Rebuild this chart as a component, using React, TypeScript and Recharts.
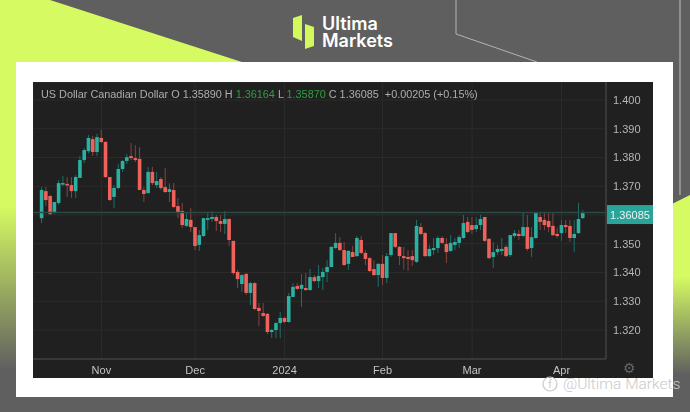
import * as React from "react"
import { ComposedChart, Bar, XAxis, YAxis, CartesianGrid, ReferenceLine } from "recharts"

const opens = [
  1.3589, 1.3683, 1.3666, 1.3607, 1.3642, 1.3708, 1.3708, 1.3704, 1.3683, 1.3729,
  1.3791, 1.3822, 1.3864, 1.3819, 1.3868, 1.3854, 1.3732, 1.3663, 1.3694, 1.3760,
  1.3788, 1.3805, 1.3798, 1.3795, 1.3687, 1.3676, 1.3750, 1.3704, 1.3725, 1.3697,
  1.3680, 1.3687, 1.3631, 1.3614, 1.3562, 1.3583, 1.3558, 1.3496, 1.3527, 1.3583,
  1.3586, 1.3593, 1.3579, 1.3569, 1.3586, 1.3510, 1.3402, 1.3360, 1.3395, 1.3329,
  1.3363, 1.3277, 1.3259, 1.3256, 1.3193, 1.3200, 1.3224, 1.3242, 1.3228, 1.3315,
  1.3353, 1.3343, 1.3346, 1.3339, 1.3384, 1.3370, 1.3384, 1.3402, 1.3419, 1.3485,
  1.3503, 1.3478, 1.3430, 1.3471, 1.3457, 1.3513, 1.3468, 1.3450, 1.3412, 1.3391,
  1.3430, 1.3381, 1.3461, 1.3537, 1.3489, 1.3457, 1.3454, 1.3457, 1.3437, 1.3558,
  1.3537, 1.3457, 1.3478, 1.3485, 1.3520, 1.3499, 1.3475, 1.3496, 1.3503, 1.3520,
  1.3576, 1.3565, 1.3551, 1.3565, 1.3593, 1.3517, 1.3454, 1.3471, 1.3475, 1.3489,
  1.3461, 1.3527, 1.3534, 1.3527, 1.3558, 1.3485, 1.3520, 1.3593, 1.3583, 1.3579,
  1.3562, 1.3534, 1.3537, 1.3565, 1.3562, 1.3520, 1.3537, 1.3589,
]

const highs = [
  1.3697, 1.3697, 1.3670, 1.3645, 1.3722, 1.3736, 1.3732, 1.3732, 1.3739, 1.3805,
  1.3833, 1.3878, 1.3875, 1.3882, 1.3896, 1.3857, 1.3732, 1.3704, 1.3777, 1.3791,
  1.3812, 1.3850, 1.3843, 1.3836, 1.3697, 1.3767, 1.3767, 1.3750, 1.3732, 1.3763,
  1.3711, 1.3711, 1.3659, 1.3642, 1.3610, 1.3624, 1.3558, 1.3548, 1.3589, 1.3607,
  1.3614, 1.3600, 1.3600, 1.3614, 1.3589, 1.3510, 1.3409, 1.3395, 1.3398, 1.3367,
  1.3367, 1.3294, 1.3294, 1.3259, 1.3204, 1.3228, 1.3263, 1.3245, 1.3329, 1.3363,
  1.3363, 1.3395, 1.3398, 1.3412, 1.3391, 1.3426, 1.3416, 1.3443, 1.3492, 1.3537,
  1.3523, 1.3506, 1.3478, 1.3492, 1.3527, 1.3527, 1.3478, 1.3454, 1.3443, 1.3433,
  1.3461, 1.3468, 1.3537, 1.3537, 1.3492, 1.3489, 1.3478, 1.3478, 1.3583, 1.3572,
  1.3541, 1.3496, 1.3520, 1.3527, 1.3527, 1.3520, 1.3530, 1.3520, 1.3530, 1.3600,
  1.3593, 1.3593, 1.3593, 1.3600, 1.3593, 1.3520, 1.3506, 1.3496, 1.3520, 1.3496,
  1.3530, 1.3548, 1.3548, 1.3610, 1.3600, 1.3558, 1.3610, 1.3610, 1.3607, 1.3610,
  1.3607, 1.3555, 1.3583, 1.3583, 1.3583, 1.3583, 1.3642, 1.36164,
]

const lows = [
  1.3572, 1.3631, 1.3600, 1.3603, 1.3635, 1.3701, 1.3663, 1.3659, 1.3659, 1.3729,
  1.3781, 1.3815, 1.3805, 1.3805, 1.3850, 1.3729, 1.3649, 1.3624, 1.3690, 1.3750,
  1.3777, 1.3791, 1.3784, 1.3687, 1.3645, 1.3676, 1.3704, 1.3694, 1.3687, 1.3676,
  1.3645, 1.3624, 1.3589, 1.3555, 1.3558, 1.3541, 1.3478, 1.3475, 1.3523, 1.3548,
  1.3576, 1.3544, 1.3541, 1.3534, 1.3492, 1.3391, 1.3346, 1.3332, 1.3322, 1.3287,
  1.3270, 1.3214, 1.3245, 1.3186, 1.3172, 1.3172, 1.3172, 1.3224, 1.3224, 1.3315,
  1.3339, 1.3280, 1.3336, 1.3336, 1.3367, 1.3346, 1.3339, 1.3367, 1.3419, 1.3482,
  1.3475, 1.3423, 1.3409, 1.3454, 1.3454, 1.3464, 1.3426, 1.3402, 1.3388, 1.3350,
  1.3357, 1.3363, 1.3454, 1.3485, 1.3426, 1.3409, 1.3405, 1.3423, 1.3433, 1.3530,
  1.3454, 1.3454, 1.3461, 1.3468, 1.3499, 1.3433, 1.3471, 1.3478, 1.3485, 1.3517,
  1.3537, 1.3534, 1.3541, 1.3548, 1.3506, 1.3447, 1.3416, 1.3461, 1.3461, 1.3454,
  1.3454, 1.3520, 1.3513, 1.3523, 1.3475, 1.3454, 1.3517, 1.3548, 1.3548, 1.3541,
  1.3527, 1.3520, 1.3510, 1.3537, 1.3506, 1.3471, 1.3534, 1.3587,
]

const closes = [
  1.3687, 1.3652, 1.3603, 1.3645, 1.3711, 1.3711, 1.3704, 1.3683, 1.3732, 1.3791,
  1.3826, 1.3868, 1.3819, 1.3871, 1.3854, 1.3732, 1.3652, 1.3694, 1.3760, 1.3788,
  1.3801, 1.3798, 1.3791, 1.3687, 1.3673, 1.3750, 1.3711, 1.3718, 1.3694, 1.3680,
  1.3690, 1.3628, 1.3607, 1.3565, 1.3586, 1.3558, 1.3492, 1.3530, 1.3589, 1.3589,
  1.3593, 1.3579, 1.3569, 1.3586, 1.3513, 1.3398, 1.3377, 1.3391, 1.3329, 1.3363,
  1.3273, 1.3266, 1.3249, 1.3193, 1.3200, 1.3224, 1.3242, 1.3228, 1.3318, 1.3350,
  1.3343, 1.3357, 1.3339, 1.3384, 1.3370, 1.3388, 1.3402, 1.3419, 1.3489, 1.3503,
  1.3478, 1.3426, 1.3475, 1.3454, 1.3520, 1.3468, 1.3447, 1.3405, 1.3391, 1.3430,
  1.3381, 1.3457, 1.3537, 1.3489, 1.3457, 1.3450, 1.3447, 1.3443, 1.3562, 1.3534,
  1.3457, 1.3482, 1.3485, 1.3520, 1.3503, 1.3471, 1.3503, 1.3506, 1.3523, 1.3572,
  1.3541, 1.3548, 1.3565, 1.3586, 1.3510, 1.3450, 1.3471, 1.3482, 1.3482, 1.3457,
  1.3530, 1.3537, 1.3527, 1.3558, 1.3482, 1.3523, 1.3607, 1.3576, 1.3565, 1.3558,
  1.3530, 1.3527, 1.3565, 1.3558, 1.3520, 1.3534, 1.3586, 1.36085,
]

const lastPrice = 1.36085
const priceTicks = [1.32, 1.33, 1.34, 1.35, 1.36, 1.37, 1.38, 1.39, 1.4]
const monthTicks = [14, 36, 57, 80, 101, 122]
const monthLabels = ["Nov", "Dec", "2024", "Feb", "Mar", "Apr"]

const UP = "#2cb0a2"
const DOWN = "#ee625b"
const UP_WICK = "#1d6f68"
const DOWN_WICK = "#854440"

const data = opens.map((open, i) => ({
  i,
  open,
  high: highs[i],
  low: lows[i],
  close: closes[i],
}))

// wick + body, everything derived from the range rectangle the bar gets
function Candle(props: any) {
  const { x, y, width, height, payload } = props
  const h = Math.abs(height)
  const toY = (v: number) => y + ((payload.high - v) / (payload.high - payload.low)) * h
  const up = payload.close >= payload.open
  const cx = x + width / 2
  const top = toY(Math.max(payload.open, payload.close))
  const bottom = toY(Math.min(payload.open, payload.close))
  return (
    <g>
      <line x1={cx} x2={cx} y1={y} y2={y + h} stroke={up ? UP_WICK : DOWN_WICK} strokeWidth={1} />
      <rect x={cx - 1.8} y={top} width={3.6} height={Math.max(bottom - top, 1.5)} fill={up ? UP : DOWN} />
    </g>
  )
}

function PriceTag(props: any) {
  const { viewBox } = props
  const left = viewBox.x + viewBox.width + 1
  return (
    <g>
      <rect x={left} y={viewBox.y - 7.5} width={46} height={19} fill="#2aa398" />
      <text x={left + 23} y={viewBox.y + 6} fill="#e8f4f2" fontSize={11} textAnchor="middle" fontFamily="Liberation Sans">
        {lastPrice.toFixed(5)}
      </text>
    </g>
  )
}

const grey = "#aeaeae"
const green = "#2f9e44"

export default function App() {
  return (
    <div style={{ position: "absolute", left: 0, top: 0, width: 690, height: 412, overflow: "hidden", background: "#5f5f5f" }}>
      <svg width={690} height={412} style={{ position: "absolute", left: 0, top: 0 }}>
        <defs>
          <linearGradient id="fade" x1="0" y1="0" x2="0" y2="1">
            <stop offset="0" stopColor="#d6fb62" />
            <stop offset="0.45" stopColor="#d6fb62" />
            <stop offset="1" stopColor="#5f5f5f" />
          </linearGradient>
        </defs>
        <polygon points="0,0 50,0 245,63 245,70 0,70" fill="#d6fb62" />
        <rect x={0} y={70} width={16} height={300} fill="url(#fade)" />
        <polygon points="600,240 690,195 690,375 600,375" fill="url(#fade)" />
        <polyline points="456,0 456,34 537,62" fill="none" stroke="#b4b4b4" strokeWidth={1} />
        <line x1={680} x2={680} y1={0} y2={195} stroke="#a0a0a0" strokeWidth={1.5} />
        {/* logo */}
        <polygon points="293,18 302,15 302,41 293,37" fill="#d2f85c" />
        <polygon points="305,24 314,27 314,46 305,49" fill="#d2f85c" />
        <text x={322} y={30} fill="#fff" fontSize={18} fontWeight={600} fontFamily="Inter">Ultima</text>
        <text x={322} y={47} fill="#fff" fontSize={18} fontWeight={600} fontFamily="Inter">Markets</text>
      </svg>

      <div style={{ position: "absolute", left: 16, top: 62, width: 657, height: 335, background: "#fff" }} />

      <div style={{ position: "absolute", left: 33, top: 82, width: 620, height: 296, background: "#202020", filter: "blur(0.5px)" }}>
        <ComposedChart
          width={620}
          height={296}
          data={data}
          margin={{ top: 0, right: 0, bottom: 0, left: 0 }}
          barCategoryGap={0}
        >
          <CartesianGrid stroke="#2c2c2c" strokeWidth={1} />
          <XAxis
            dataKey="i"
            type="category"
            ticks={monthTicks}
            interval={0}
            height={19}
            padding={{ left: 6.6, right: 21 }}
            tickLine={false}
            axisLine={{ stroke: "#4a4a4a" }}
            tickMargin={1}
            tickFormatter={(v: number) => monthLabels[monthTicks.indexOf(v)]}
            tick={{ fill: "#c4c4c4", fontSize: 11, fontFamily: "Liberation Sans" }}
          />
          <YAxis
            orientation="right"
            width={47}
            domain={[1.30991, 1.40626]}
            allowDataOverflow
            ticks={priceTicks}
            interval={0}
            tickLine={false}
            axisLine={{ stroke: "#4a4a4a" }}
            tickMargin={1}
            tickFormatter={(v: number) => (v === 1.36 ? "" : v.toFixed(3))}
            tick={{ fill: "#b5b5b5", fontSize: 11, fontFamily: "Liberation Sans" }}
          />
          <ReferenceLine y={lastPrice} stroke="#2a4a46" strokeWidth={1.5} label={<PriceTag />} />
          <Bar dataKey={(d: any) => [d.low, d.high]} shape={<Candle />} isAnimationActive={false} />
        </ComposedChart>
        <div style={{ position: "absolute", left: 8, top: 6, fontFamily: "Liberation Sans", fontSize: 10.85, color: grey, whiteSpace: "pre" }}>
          {"US Dollar Canadian Dollar O 1.35890 H "}
          <span style={{ color: green }}>1.36164</span>
          {" L "}
          <span style={{ color: green }}>1.35870</span>
          {" C 1.36085  +0.00205 (+0.15%)"}
        </div>
        <div style={{ position: "absolute", left: 590, top: 278, fontFamily: "DejaVu Sans", fontSize: 14, color: "#666", lineHeight: "16px" }}>⚙</div>
      </div>

      <svg width={690} height={412} style={{ position: "absolute", left: 0, top: 0, pointerEvents: "none" }}>
        <circle cx={550} cy={384} r={7} fill="none" stroke="#c8c8c8" strokeWidth={1.2} />
        <text x={550} y={388} fill="#c8c8c8" fontSize={10} textAnchor="middle" fontFamily="Roboto">f</text>
        <text x={563} y={389} fill="#c9c9c9" fontSize={15.5} fontFamily="Roboto" fontWeight={300}>@Ultima Markets</text>
      </svg>
    </div>
  )
}
